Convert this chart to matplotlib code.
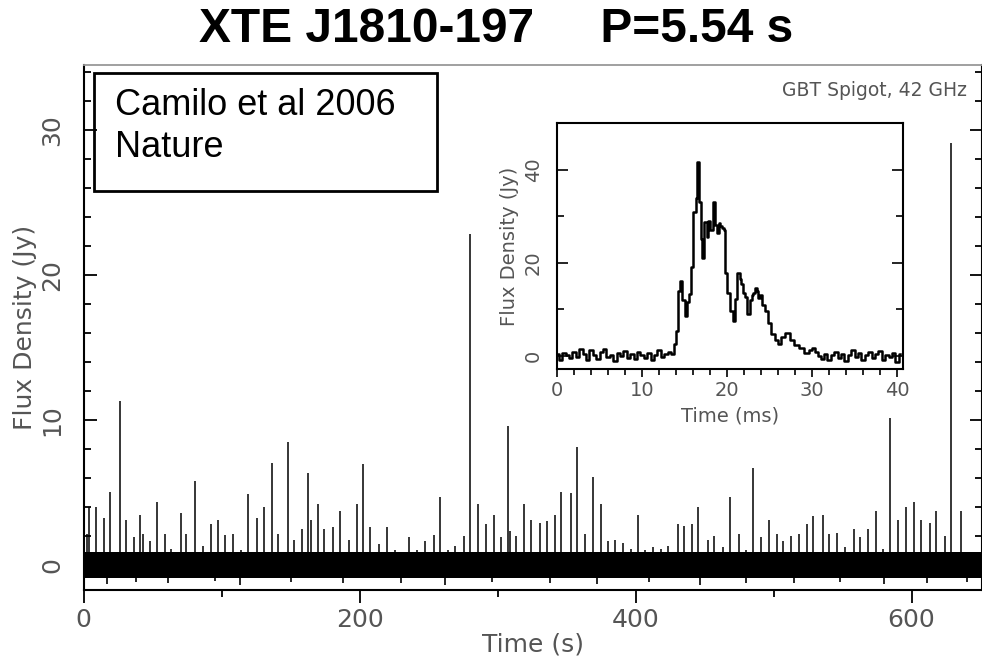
import matplotlib
matplotlib.use("Agg")
import matplotlib.pyplot as plt
from matplotlib.patches import Rectangle
from matplotlib.ticker import MultipleLocator

# single-pulse time series: pulse arrival time (s) and peak flux density (Jy)
spike_t = [2.8, 4.2, 9.1, 14.9, 19.2, 24.1, 26.5, 30.8, 36.6, 41.0, 43.0, 48.3,
           53.1, 58.7, 63.3, 70.5, 74.4, 80.9, 86.5, 92.3, 97.1, 102.7, 108.3,
           113.9, 118.9, 125.7, 130.5, 136.6, 140.9, 148.2, 152.3, 158.3, 162.7,
           164.9, 169.9, 174.5, 180.6, 186.1, 192.2, 197.8, 202.4, 207.9, 213.9,
           220.0, 225.8, 235.7, 241.4, 247.3, 253.8, 258.2, 264.0, 268.9, 275.6,
           280.0, 285.8, 291.8, 297.4, 302.7, 307.8, 309.3, 313.6, 319.2, 324.0,
           330.8, 335.6, 341.4, 345.8, 353.0, 357.4, 363.4, 369.2, 374.8, 379.7,
           385.2, 391.0, 396.6, 401.4, 407.0, 412.5, 418.1, 423.7, 430.5, 435.3,
           440.9, 445.4, 452.7, 457.0, 463.1, 468.7, 474.7, 479.8, 484.9, 490.9,
           496.5, 502.5, 507.1, 512.7, 518.3, 524.3, 528.9, 536.1, 540.5, 546.1,
           552.0, 557.9, 562.3, 568.4, 574.4, 579.2, 584.0, 590.1, 596.1, 601.7,
           606.5, 613.6, 617.9, 623.9, 628.3, 635.6]
spike_h = [2.1, 4.0, 3.95, 3.2, 5.05, 0.9, 11.3, 3.1, 1.9, 3.45, 2.1, 1.6,
           4.3, 2.1, 1.1, 3.55, 2.1, 5.8, 1.3, 2.8, 3.05, 2.05, 2.1,
           1.0, 4.9, 3.2, 4.0, 7.0, 2.1, 8.45, 1.7, 2.45, 6.3,
           3.1, 4.2, 2.45, 2.6, 3.7, 1.7, 4.2, 6.95, 2.6, 1.4,
           2.6, 1.0, 1.9, 1.0, 1.6, 2.05, 4.65, 1.0, 1.3, 2.0,
           22.8, 4.2, 2.8, 3.45, 1.9, 9.55, 2.3, 1.95, 4.2, 3.1,
           2.9, 3.0, 3.45, 5.05, 4.95, 8.15, 2.1, 6.05, 4.2, 1.6,
           1.7, 1.5, 1.1, 3.45, 1.0, 1.2, 1.1, 1.3, 2.8, 2.7,
           2.8, 3.95, 1.7, 2.0, 1.2, 4.7, 2.1, 1.0, 6.7, 1.9,
           3.05, 2.1, 1.6, 2.0, 2.1, 2.8, 3.35, 3.45, 2.1, 2.2,
           1.2, 2.45, 1.9, 2.45, 3.7, 1.1, 10.15, 3.1, 4.0, 4.3,
           3.1, 2.9, 3.7, 2.0, 29.1, 3.7]

# downward noise excursions below the baseline band
dip_t = [16.8, 38.0, 61.5, 95.0, 113.6, 150.0, 188.0, 230.0, 262.0, 296.0,
         338.0, 372.0, 410.0, 447.0, 480.0, 515.0, 548.0, 580.0, 611.0, 640.0]
dip_f = [-1.35, -1.2, -1.3, -1.15, -1.4, -1.2, -1.3, -1.25, -1.4, -1.2,
         -1.3, -1.35, -1.2, -1.4, -1.25, -1.3, -1.2, -1.35, -1.3, -1.2]
band_lo, band_hi = -0.9, 0.9

# integrated pulse profile (ms, Jy)
prof_t = [0.0, 0.4, 0.8, 1.2, 1.6, 2.0, 2.4, 2.8, 3.2, 3.6, 4.0, 4.4, 4.8, 5.2,
          5.6, 6.0, 6.4, 6.8, 7.2, 7.6, 8.0, 8.4, 8.8, 9.2, 9.6, 10.0, 10.4,
          10.8, 11.2, 11.6, 12.0, 12.4, 12.8, 13.2,
          13.6, 13.9, 14.1, 14.3, 14.6, 14.9, 15.2, 15.4, 15.6, 15.9, 16.2,
          16.4, 16.6, 16.8, 17.0, 17.2, 17.5, 17.7, 17.9, 18.2, 18.5, 18.7,
          18.9, 19.1, 19.3, 19.5, 19.7, 19.9, 20.2, 20.5, 20.8, 21.0, 21.4,
          21.6, 21.8, 22.0, 22.2, 22.5, 22.8, 23.0, 23.2, 23.4, 23.6, 23.8,
          24.0, 24.3, 24.7, 25.0, 25.4, 25.8, 26.2, 26.6, 27.1, 27.6, 28.2,
          28.8, 29.4, 29.8, 30.2, 30.5, 30.8,
          31.2, 31.6, 32.0, 32.4, 32.8, 33.2, 33.6, 34.0, 34.4, 34.8, 35.2,
          35.6, 36.0, 36.4, 36.8, 37.2, 37.6, 38.0, 38.4, 38.8, 39.2, 39.6,
          40.0, 40.4]
prof_f = [0.5, -0.8, 0.6, 0.2, -0.5, 0.9, -0.3, 1.6, 0.4, -0.9, 1.2, 0.1, -0.6,
          0.8, 1.4, -0.2, 0.3, -1.1, 0.7, 0.0, 1.0, -0.4, 0.5, -0.7, 0.9, 0.2,
          -0.5, 0.6, -0.9, 0.3, 1.3, -0.3, 0.4, 0.8,
          0.5, 2.5, 5.4, 14.0, 16.0, 12.0, 8.6, 11.5, 13.4, 19.0, 31.0,
          34.0, 41.7, 33.0, 25.0, 21.0, 28.7, 25.5, 29.0, 27.0, 33.0, 28.0,
          26.4, 28.5, 27.9, 27.5, 27.0, 17.7, 13.6, 9.7, 7.5, 12.3, 17.7,
          16.5, 15.5, 13.5, 12.6, 9.0, 12.0, 13.0, 13.6, 14.5, 14.0, 12.5,
          13.0, 11.0, 9.7, 7.0, 4.8, 3.4, 2.6, 4.0, 5.0, 3.4, 2.3,
          1.7, 0.6, 1.2, 1.7, 0.8, 0.0,
          -0.6, 0.4, -0.9, 0.2, 0.8, -0.4, 0.5, -1.0, 0.3, 1.2, -0.2,
          0.6, -0.8, 0.1, 0.9, -0.5, 0.4, 1.1, -0.9, 0.3, -0.3, 0.7,
          -1.2, 0.5]

W, H = 982, 660
lab = dict(family="DejaVu Sans", color="#555555")

fig = plt.figure(figsize=(W / 100, H / 100), dpi=100)

# main time series
ax = fig.add_axes([83.5 / W, 1 - 590 / H, (982 - 83.5) / W, (590 - 65) / H])
ax.set_xlim(0, 651)
ax.set_ylim(-1.75, 34.5)
ax.fill_between([0, 651], band_lo, band_hi, color="k", lw=0)
ax.vlines(spike_t, 0, spike_h, colors="k", lw=1.1)
ax.vlines(dip_t, dip_f, 0, colors="k", lw=1.2)

ax.xaxis.set_major_locator(MultipleLocator(200))
ax.xaxis.set_minor_locator(MultipleLocator(100))
ax.yaxis.set_major_locator(MultipleLocator(10))
ax.yaxis.set_minor_locator(MultipleLocator(2))
ax.tick_params(axis="x", which="both", direction="out", width=1.3,
               labelsize=18, labelcolor="#555555", pad=4)
ax.tick_params(axis="x", which="major", length=9)
ax.tick_params(axis="x", which="minor", length=5)
ax.tick_params(axis="y", which="both", direction="in", right=True, width=1.3,
               labelsize=18, labelcolor="#555555", labelrotation=90, pad=14)
ax.tick_params(axis="y", which="major", length=9)
ax.tick_params(axis="y", which="minor", length=5)
for lbl in ax.get_yticklabels():
    lbl.set_va("center")
for s in ("left", "bottom", "right"):
    ax.spines[s].set_linewidth(1.5)
ax.spines["top"].set_color("#999999")
ax.spines["top"].set_linewidth(1.3)
ax.set_xlabel("Time (s)", fontsize=18, labelpad=0, **lab)
ax.set_ylabel("Flux Density (Jy)", fontsize=18, labelpad=2, **lab)

fig.text(0.505, 0.955, "XTE J1810-197     P=5.54 s", ha="center", va="center",
         fontsize=34.5, fontweight="bold", family="Liberation Sans")
fig.text(967 / W, 1 - 96 / H, "GBT Spigot, 42 GHz", ha="right", va="baseline",
         fontsize=13.5, **lab)

fig.add_artist(Rectangle((94 / W, 1 - 191 / H), (437 - 94) / W, (191 - 73) / H,
                         transform=fig.transFigure, fill=False, lw=2, ec="k"))
fig.text(115 / W, 1 - 115 / H, "Camilo et al 2006", va="baseline",
         fontsize=26, family="Liberation Sans")
fig.text(115 / W, 1 - 157 / H, "Nature", va="baseline",
         fontsize=26, family="Liberation Sans")

# inset: average pulse profile
ins = fig.add_axes([557 / W, 1 - 369 / H, (903 - 557) / W, (369 - 123) / H])
ins.set_facecolor("white")
ins.plot(prof_t, prof_f, color="k", lw=1.8, drawstyle="steps-mid")
ins.set_xlim(0, 40.7)
ins.set_ylim(-2.8, 50)
ins.xaxis.set_major_locator(MultipleLocator(10))
ins.xaxis.set_minor_locator(MultipleLocator(2))
ins.yaxis.set_major_locator(MultipleLocator(20))
ins.yaxis.set_minor_locator(MultipleLocator(10))
ins.tick_params(axis="x", which="both", direction="out", width=1.2,
                labelsize=14, labelcolor="#555555", pad=3)
ins.tick_params(axis="x", which="major", length=6)
ins.tick_params(axis="x", which="minor", length=4)
ins.tick_params(axis="y", which="both", direction="in", right=True, width=1.2,
                labelsize=14, labelcolor="#555555", labelrotation=90, pad=10)
ins.tick_params(axis="y", which="major", length=8)
ins.tick_params(axis="y", which="minor", length=5)
for lbl in ins.get_yticklabels():
    lbl.set_va("center")
for s in ins.spines.values():
    s.set_linewidth(1.5)
ins.set_xlabel("Time (ms)", fontsize=14, labelpad=4, **lab)
ins.set_ylabel("Flux Density (Jy)", fontsize=14, labelpad=4, **lab)

fig.savefig("out.png", dpi=100)
